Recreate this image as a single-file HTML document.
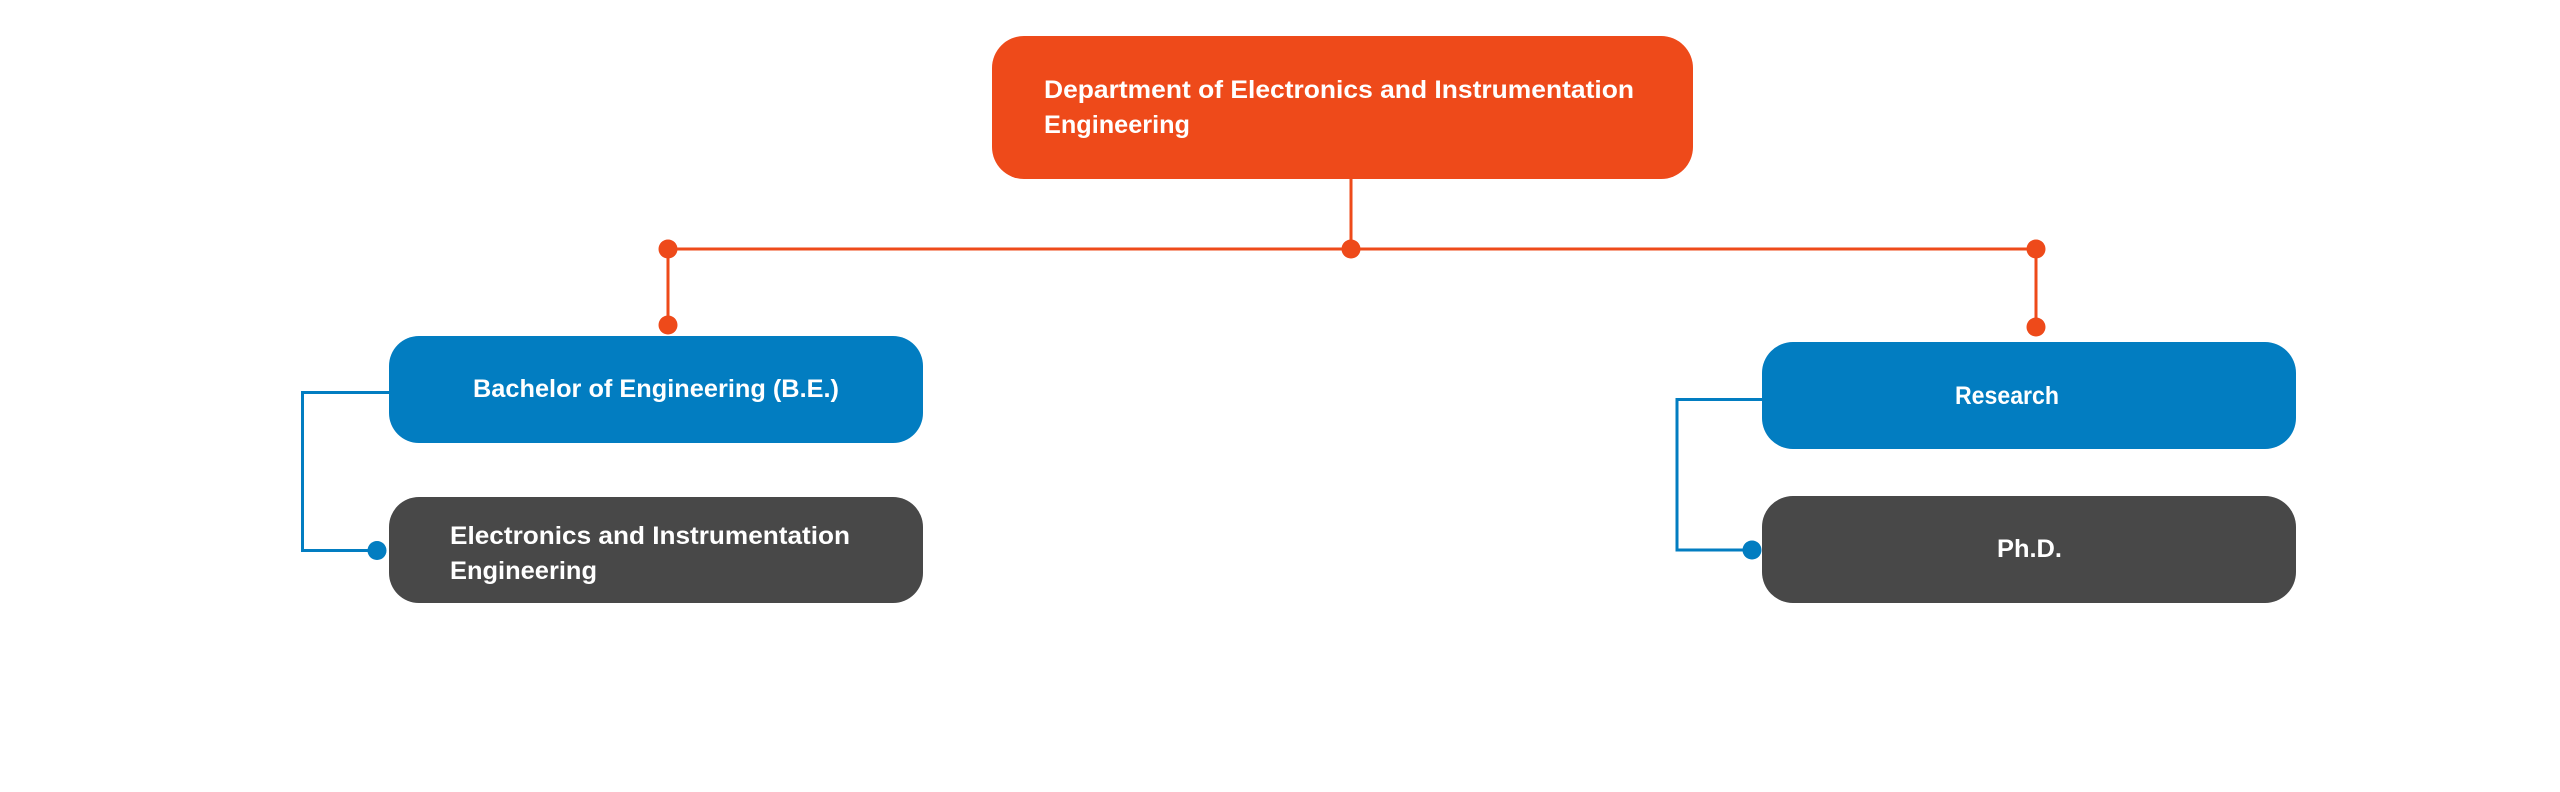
<!DOCTYPE html>
<html>
<head>
<meta charset="utf-8">
<style>
  html, body { margin: 0; padding: 0; background: #ffffff; }
  body { width: 2560px; height: 792px; overflow: hidden; }
  svg { display: block; }
  text { font-family: "Liberation Sans", Arial, sans-serif; font-weight: bold; font-size: 25px; fill: #ffffff; }
</style>
</head>
<body>
<svg width="2560" height="792" viewBox="0 0 2560 792" xmlns="http://www.w3.org/2000/svg">
  <rect x="0" y="0" width="2560" height="792" fill="#ffffff"/>

  <!-- orange connectors -->
  <g stroke="#EE4A1A" stroke-width="3" fill="none">
    <line x1="1351" y1="178" x2="1351" y2="249"/>
    <line x1="668" y1="249" x2="2036" y2="249"/>
    <line x1="668" y1="249" x2="668" y2="325"/>
    <line x1="2036" y1="249" x2="2036" y2="327"/>
  </g>
  <g fill="#EE4A1A">
    <circle cx="668" cy="249" r="9.5"/>
    <circle cx="1351" cy="249" r="9.5"/>
    <circle cx="2036" cy="249" r="9.5"/>
    <circle cx="668" cy="325" r="9.5"/>
    <circle cx="2036" cy="327" r="9.5"/>
  </g>

  <!-- blue connectors -->
  <g stroke="#027DC1" stroke-width="3" fill="none">
    <polyline points="390,392.5 302.5,392.5 302.5,550.5 377,550.5"/>
    <polyline points="1763,399.5 1677,399.5 1677,550 1752,550"/>
  </g>
  <g fill="#027DC1">
    <circle cx="377" cy="550.5" r="9.5"/>
    <circle cx="1752" cy="550" r="9.5"/>
  </g>

  <!-- top box -->
  <rect x="992" y="36" width="701" height="143" rx="32" ry="32" fill="#EE4A1A"/>
  <text x="1044" y="98" textLength="590" lengthAdjust="spacingAndGlyphs">Department of Electronics and Instrumentation</text>
  <text x="1044" y="133" textLength="146" lengthAdjust="spacingAndGlyphs">Engineering</text>

  <!-- left column -->
  <rect x="389" y="336" width="534" height="107" rx="30" ry="30" fill="#027DC1"/>
  <text x="473" y="397" textLength="366" lengthAdjust="spacingAndGlyphs">Bachelor of Engineering (B.E.)</text>

  <rect x="389" y="497" width="534" height="106" rx="30" ry="30" fill="#484848"/>
  <text x="450" y="544" textLength="400" lengthAdjust="spacingAndGlyphs">Electronics and Instrumentation</text>
  <text x="450" y="579" textLength="147" lengthAdjust="spacingAndGlyphs">Engineering</text>

  <!-- right column -->
  <rect x="1762" y="342" width="534" height="107" rx="31" ry="31" fill="#027DC1"/>
  <text x="1955" y="404" textLength="104" lengthAdjust="spacingAndGlyphs">Research</text>

  <rect x="1762" y="496" width="534" height="107" rx="31" ry="31" fill="#484848"/>
  <text x="1997" y="557" textLength="65" lengthAdjust="spacingAndGlyphs">Ph.D.</text>
</svg>
</body>
</html>
